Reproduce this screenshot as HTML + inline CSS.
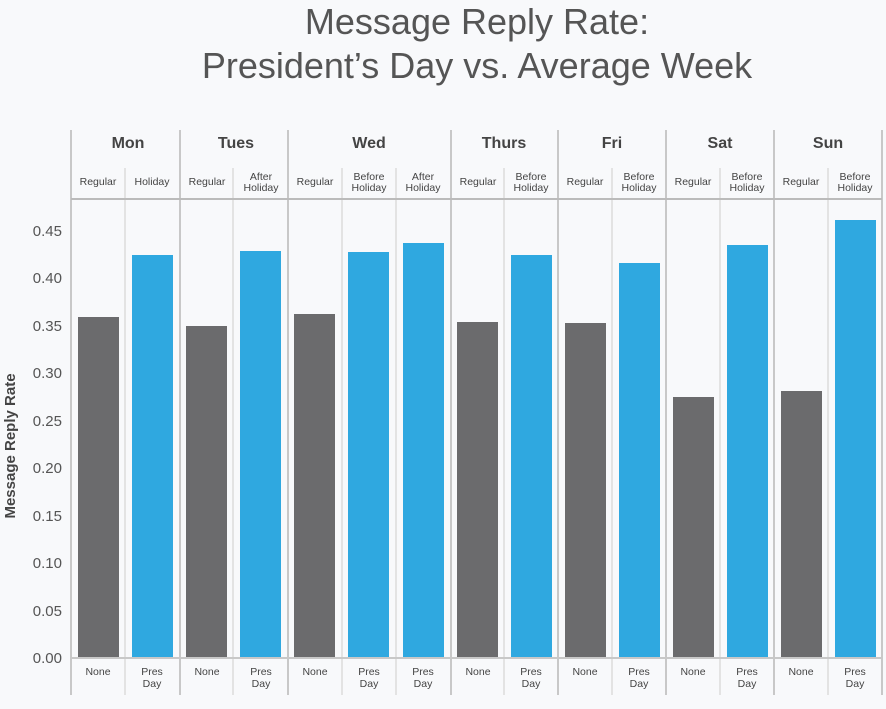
<!DOCTYPE html>
<html><head><style>body{margin:0;background:#f8f9fb}svg{display:block}text{font-family:"Liberation Sans",sans-serif}</style></head><body>
<svg width="886" height="709" xmlns="http://www.w3.org/2000/svg">
<rect width="886" height="709" fill="#f8f9fb"/>
<g fill="#555" font-size="36" text-anchor="middle"><text x="477" y="34">Message Reply Rate:</text><text x="477" y="78">President’s Day vs. Average Week</text></g>
<g stroke="#e3e3e3" stroke-width="2">
<line x1="125" y1="168" x2="125" y2="695"/><line x1="233" y1="168" x2="233" y2="695"/><line x1="342" y1="168" x2="342" y2="695"/><line x1="396" y1="168" x2="396" y2="695"/><line x1="504" y1="168" x2="504" y2="695"/><line x1="612" y1="168" x2="612" y2="695"/><line x1="720" y1="168" x2="720" y2="695"/><line x1="828" y1="168" x2="828" y2="695"/>
</g>
<g stroke="#c8c8c8" stroke-width="2">
<line x1="71" y1="130" x2="71" y2="695"/><line x1="180" y1="130" x2="180" y2="695"/><line x1="288" y1="130" x2="288" y2="695"/><line x1="451" y1="130" x2="451" y2="695"/><line x1="558" y1="130" x2="558" y2="695"/><line x1="666" y1="130" x2="666" y2="695"/><line x1="774" y1="130" x2="774" y2="695"/><line x1="882" y1="130" x2="882" y2="695"/>
<line x1="71" y1="199" x2="882" y2="199" stroke="#bbb"/>
</g>
<g fill="#6b6b6d">
<rect x="78" y="317" width="41" height="341"/><rect x="186" y="326" width="41" height="332"/><rect x="294" y="314" width="41" height="344"/><rect x="457" y="322" width="41" height="336"/><rect x="565" y="323" width="41" height="335"/><rect x="673" y="397" width="41" height="261"/><rect x="781" y="391" width="41" height="267"/>
</g>
<g fill="#2fa8e0">
<rect x="132" y="255" width="41" height="403"/><rect x="240" y="251" width="41" height="407"/><rect x="348" y="252" width="41" height="406"/><rect x="403" y="243" width="41" height="415"/><rect x="511" y="255" width="41" height="403"/><rect x="619" y="263" width="41" height="395"/><rect x="727" y="245" width="41" height="413"/><rect x="835" y="220" width="41" height="438"/>
</g>
<line x1="71" y1="658" x2="882" y2="658" stroke="#c8c8c8" stroke-width="2"/>
<g fill="#444" font-size="16" font-weight="bold" text-anchor="middle">
<text x="128" y="148">Mon</text><text x="236" y="148">Tues</text><text x="369" y="148">Wed</text><text x="504" y="148">Thurs</text><text x="612" y="148">Fri</text><text x="720" y="148">Sat</text><text x="828" y="148">Sun</text>
</g>
<g fill="#444" font-size="10.5" text-anchor="middle">
<text x="98" y="185">Regular</text><text x="152" y="185">Holiday</text><text x="207" y="185">Regular</text><text x="261" y="180">After</text><text x="261" y="191">Holiday</text>
<text x="315" y="185">Regular</text><text x="369" y="180">Before</text><text x="369" y="191">Holiday</text><text x="423" y="180">After</text><text x="423" y="191">Holiday</text>
<text x="478" y="185">Regular</text><text x="531" y="180">Before</text><text x="531" y="191">Holiday</text>
<text x="585" y="185">Regular</text><text x="639" y="180">Before</text><text x="639" y="191">Holiday</text>
<text x="693" y="185">Regular</text><text x="747" y="180">Before</text><text x="747" y="191">Holiday</text>
<text x="801" y="185">Regular</text><text x="855" y="180">Before</text><text x="855" y="191">Holiday</text>
<text x="98" y="675">None</text><text x="152" y="675">Pres</text><text x="152" y="687">Day</text>
<text x="207" y="675">None</text><text x="261" y="675">Pres</text><text x="261" y="687">Day</text>
<text x="315" y="675">None</text><text x="369" y="675">Pres</text><text x="369" y="687">Day</text><text x="423" y="675">Pres</text><text x="423" y="687">Day</text>
<text x="478" y="675">None</text><text x="531" y="675">Pres</text><text x="531" y="687">Day</text>
<text x="585" y="675">None</text><text x="639" y="675">Pres</text><text x="639" y="687">Day</text>
<text x="693" y="675">None</text><text x="747" y="675">Pres</text><text x="747" y="687">Day</text>
<text x="801" y="675">None</text><text x="855" y="675">Pres</text><text x="855" y="687">Day</text>
</g>
<g fill="#555" font-size="15" text-anchor="end">
<text x="62" y="663">0.00</text><text x="62" y="616">0.05</text><text x="62" y="568">0.10</text><text x="62" y="521">0.15</text><text x="62" y="473">0.20</text><text x="62" y="426">0.25</text><text x="62" y="378">0.30</text><text x="62" y="331">0.35</text><text x="62" y="283">0.40</text><text x="62" y="236">0.45</text>
</g>
<text transform="translate(15,446) rotate(-90)" fill="#444" font-size="15" font-weight="bold" text-anchor="middle">Message Reply Rate</text>
</svg>
</body></html>
